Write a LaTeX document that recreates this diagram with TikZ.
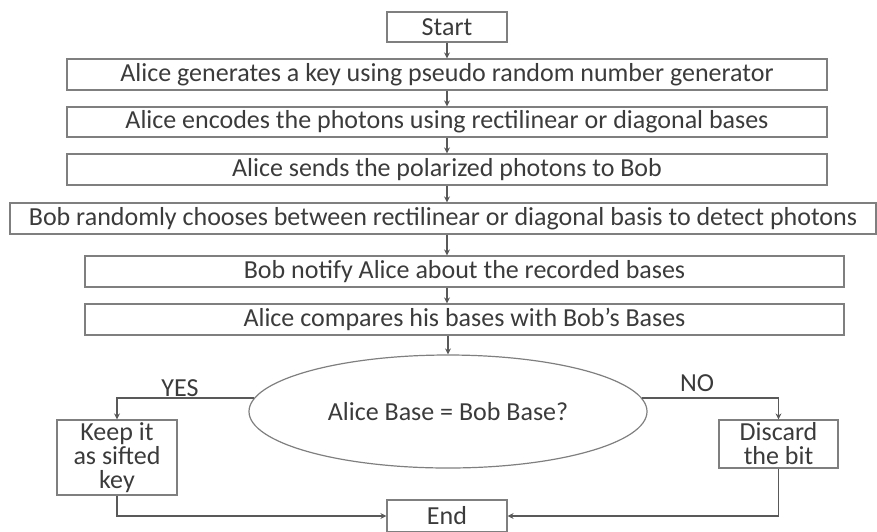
\documentclass[tikz,border=0pt]{standalone}
\usepackage{fontspec}
\setmainfont{Carlito}
\usetikzlibrary{positioning,arrows.meta,calc,shapes.geometric}
\definecolor{boxEdge}{HTML}{7F7F7F}
\definecolor{flowInk}{HTML}{3B3B3B}

\begin{document}
\begin{tikzpicture}[x=0.5pt, y=-0.5pt, >={Stealth[length=3pt,width=3pt]},
    stepBox/.style={draw=boxEdge, line width=0.6pt, inner sep=0pt, text=flowInk,
      font=\fontsize{13}{12}\selectfont, align=center},
    choiceOval/.style={stepBox, ellipse},
    flowArrow/.style={->, draw=boxEdge!70!black, line width=0.6pt},
    branchLabel/.style={text=flowInk, font=\fontsize{13}{12}\selectfont}]
  \useasboundingbox (0,0) rectangle (877,531);
  % main column
  \node[stepBox, minimum width=60pt, minimum height=15pt] (start) at (447,27) {Start};
  \node[stepBox, minimum width=380pt, minimum height=15.5pt] (gen) at (447,74.5)
    {Alice generates a key using pseudo random number generator};
  \node[stepBox, minimum width=380pt, minimum height=15pt] (enc) at (447,122)
    {Alice encodes the photons using rectilinear or diagonal bases};
  \node[stepBox, minimum width=380pt, minimum height=15.5pt] (send) at (447,169.5)
    {Alice sends the polarized photons to Bob};
  \node[stepBox, minimum width=433pt, minimum height=15.5pt] (bob) at (443,218.5)
    {Bob randomly chooses between rectilinear or diagonal basis to detect photons};
  \node[stepBox, minimum width=379.5pt, minimum height=15.5pt] (notify) at (464.5,271.5)
    {Bob notify Alice about the recorded bases};
  \node[stepBox, minimum width=379.5pt, minimum height=15.5pt] (cmp) at (464.5,319.5)
    {Alice compares his bases with Bob’s Bases};
  \node[choiceOval, minimum width=199pt, minimum height=56.5pt] (dec) at (448,411.5)
    {Alice Base = Bob Base?};
  % outcomes
  \node[stepBox, minimum width=60pt, minimum height=37.5pt] (keep) at (117,457.5)
    {Keep it\\as sifted\\key};
  \node[stepBox, minimum width=59.5pt, minimum height=24pt] (discard) at (778.5,444)
    {Discard\\the bit};
  \node[stepBox, minimum width=60pt, minimum height=16pt] (end) at (447,516) {End};
  \node[branchLabel] (yesLbl) at (180,388) {YES};
  \node[branchLabel] (noLbl) at (697,383) {NO};
  % connectors
  \draw[flowArrow] (start) -- (gen);
  \draw[flowArrow] (gen) -- (enc);
  \draw[flowArrow] (enc) -- (send);
  \draw[flowArrow] (send.south) -- (send.south |- bob.north);
  \draw[flowArrow] (start.south |- bob.south) -- (start.south |- notify.north);
  \draw[flowArrow] (start.south |- notify.south) -- (start.south |- cmp.north);
  \draw[flowArrow] (dec.north |- cmp.south) -- (dec.north);
  \draw[flowArrow] (dec.176) -| (keep.north);
  \draw[flowArrow] (dec.4) -| (discard.north);
  \draw[flowArrow] (keep.south) |- (end.west);
  \draw[flowArrow] (discard.south) |- (end.east);
\end{tikzpicture}
\end{document}
